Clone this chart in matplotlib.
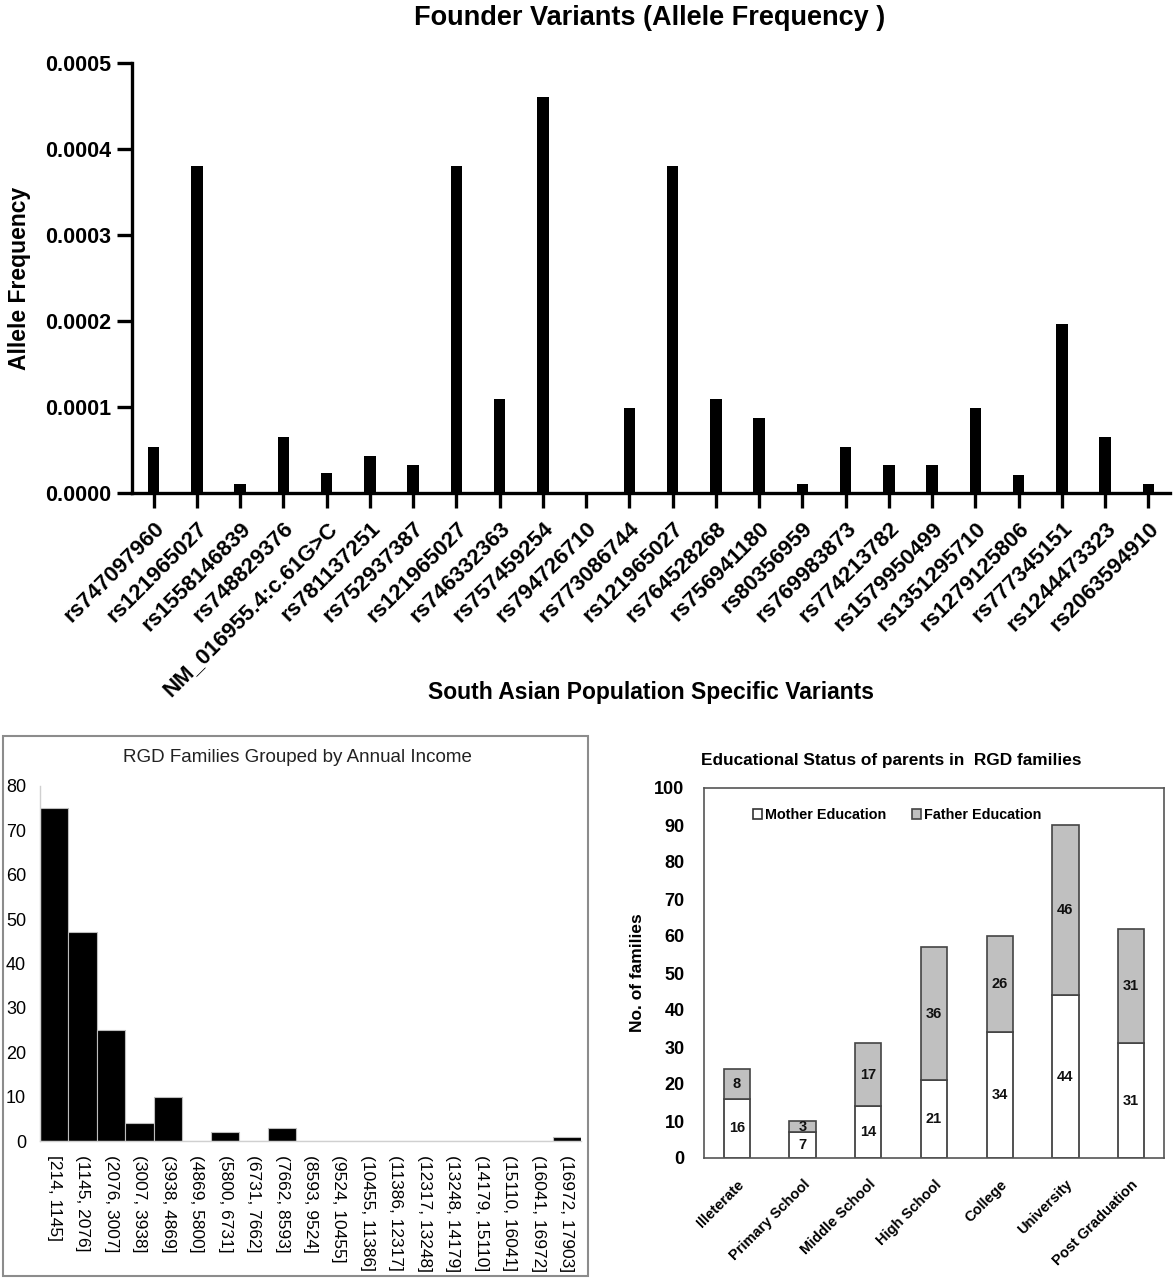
import matplotlib
matplotlib.use("Agg")
import matplotlib.pyplot as plt
from matplotlib.patches import Rectangle
import numpy as np

plt.rcParams['font.family'] = ['Liberation Sans', 'DejaVu Sans']

# ---------------- data ----------------
variants = ["rs747097960", "rs121965027", "rs1558146839", "rs748829376",
            "NM_016955.4:c.61G>C", "rs781137251", "rs752937387", "rs121965027",
            "rs746332363", "rs757459254", "rs794726710", "rs773086744",
            "rs121965027", "rs764528268", "rs756941180", "rs80356959",
            "rs769983873", "rs774213782", "rs1579950499", "rs1351295710",
            "rs1279125806", "rs777345151", "rs1244473323", "rs2063594910"]
allele_freq = [0.000054, 0.00038, 0.000010, 0.000065, 0.000023, 0.000043,
               0.000033, 0.00038, 0.000109, 0.00046, 0.000001, 0.000099,
               0.00038, 0.000109, 0.000087, 0.000010, 0.000054, 0.000033,
               0.000033, 0.000099, 0.000021, 0.000197, 0.000065, 0.000010]
freq_ticks = [0.0, 0.0001, 0.0002, 0.0003, 0.0004, 0.0005]

income_bins = ["[214, 1145]", "(1145, 2076]", "(2076, 3007]", "(3007, 3938]",
               "(3938, 4869]", "(4869, 5800]", "(5800, 6731]", "(6731, 7662]",
               "(7662, 8593]", "(8593, 9524]", "(9524, 10455]", "(10455, 11386]",
               "(11386, 12317]", "(12317, 13248]", "(13248, 14179]",
               "(14179, 15110]", "(15110, 16041]", "(16041, 16972]",
               "(16972, 17903]"]
income_counts = [75, 47, 25, 4, 10, 0, 2, 0, 3, 0, 0, 0, 0, 0, 0, 0, 0, 0, 1]
income_ticks = [0, 10, 20, 30, 40, 50, 60, 70, 80]

edu_levels = ["Illeterate", "Primary School", "Middle School", "High School",
              "College", "University", "Post Graduation"]
mother_edu = [16, 7, 14, 21, 34, 44, 31]
father_edu = [8, 3, 17, 36, 26, 46, 31]
edu_ticks = list(range(0, 101, 10))

# ---------------- figure ----------------
W, H = 1175, 1280
fig = plt.figure(figsize=(W / 100, H / 100), dpi=100)


def rect(l, t, r, b):
    return [l / W, 1 - b / H, (r - l) / W, (b - t) / H]


# ---- Top chart ----
ax1 = fig.add_axes(rect(132, 63, 1170, 493))
x = np.arange(len(variants))
ax1.bar(x, allele_freq, width=0.27, color="black")
ax1.set_xlim(-0.5, len(variants) - 0.5)
ax1.set_ylim(0, 0.0005)
ax1.set_yticks(freq_ticks)
ax1.set_yticklabels([f"{v:.4f}" for v in freq_ticks], fontsize=15.5,
                    fontweight="bold")
ax1.set_xticks(x)
ax1.set_xticklabels(variants, rotation=45, ha="right", rotation_mode="anchor",
                    fontsize=16, fontweight="bold")
for s in ["top", "right"]:
    ax1.spines[s].set_visible(False)
for s in ["left", "bottom"]:
    ax1.spines[s].set_linewidth(2.4)
ax1.tick_params(axis="both", width=2.4, length=11, pad=4)
ax1.tick_params(axis="x", pad=7)
ax1.set_ylabel("Allele Frequency", fontsize=16.5, fontweight="bold")
ax1.yaxis.set_label_coords(-0.097, 0.5)
fig.text(650 / W, 1 - 18 / H, "Founder Variants (Allele Frequency )",
         fontsize=19.5, fontweight="bold", ha="center", va="center")
fig.text(651 / W, 1 - 693 / H, "South Asian Population Specific Variants",
         fontsize=16.5, fontweight="bold", ha="center", va="center")

# ---- Bottom-left frame ----
fig.patches.append(Rectangle((3 / W, 1 - 1276 / H), (588 - 3) / W,
                             (1276 - 736) / H, transform=fig.transFigure,
                             fill=False, edgecolor="#8c8c8c", linewidth=1.5))

ax2 = fig.add_axes(rect(40, 786, 581, 1141))
xb = np.arange(len(income_bins))
ax2.bar(xb + 0.5, income_counts, width=1.0, color="black",
        edgecolor="#bdbdbd", linewidth=0.8)
ax2.set_xlim(0, len(income_bins))
ax2.set_ylim(0, 80)
ax2.set_yticks(income_ticks)
ax2.set_yticklabels([str(v) for v in income_ticks], fontsize=13)
ax2.set_xticks(xb + 0.5)
ax2.set_xticklabels(income_bins, rotation=-90, ha="center", va="top",
                    fontsize=12.5)
for s in ["top", "right"]:
    ax2.spines[s].set_visible(False)
for s in ["left", "bottom"]:
    ax2.spines[s].set_color("#d0d0d0")
    ax2.spines[s].set_linewidth(1.0)
ax2.tick_params(axis="both", length=0)
ax2.tick_params(axis="y", pad=10)
ax2.tick_params(axis="x", pad=10)
fig.text(297 / W, 1 - 758 / H, "RGD Families Grouped by Annual Income",
         fontsize=13.5, ha="center", va="center", color="#222222")

# ---- Bottom-right chart ----
ax3 = fig.add_axes(rect(704, 788, 1164, 1158))
xe = np.arange(len(edu_levels))
bw = 0.4
ax3.bar(xe, mother_edu, width=bw, color="white", edgecolor="#333333",
        linewidth=1.2, label="Mother Education")
ax3.bar(xe, father_edu, width=bw, bottom=mother_edu, color="#c0c0c0",
        edgecolor="#444444", linewidth=1.2, label="Father Education")
for i in range(len(edu_levels)):
    ax3.text(xe[i], mother_edu[i] / 2, str(mother_edu[i]), ha="center",
             va="center", fontsize=10.5, fontweight="bold", color="#111111")
    ax3.text(xe[i], mother_edu[i] + father_edu[i] / 2, str(father_edu[i]),
             ha="center", va="center", fontsize=10.5, fontweight="bold",
             color="#111111")
ax3.set_xlim(-0.5, len(edu_levels) - 0.5)
ax3.set_ylim(0, 100)
ax3.set_yticks(edu_ticks)
ax3.set_yticklabels([str(v) for v in edu_ticks], fontsize=13, fontweight="bold")
ax3.set_xticks(xe)
ax3.set_xticklabels(edu_levels, rotation=45, ha="right", rotation_mode="anchor",
                    fontsize=10.5, fontweight="bold")
ax3.tick_params(axis="both", length=0)
ax3.tick_params(axis="y", pad=14)
ax3.tick_params(axis="x", pad=14)
for s in ax3.spines.values():
    s.set_color("#555555")
    s.set_linewidth(1.2)
ax3.set_ylabel("No. of families", fontsize=12.5, fontweight="bold")
ax3.yaxis.set_label_coords(-0.128, 0.5)
ax3.legend(loc="upper center", bbox_to_anchor=(0.42, 0.981), ncol=2,
           frameon=False, prop={"weight": "bold", "size": 10.4},
           handlelength=0.6, handleheight=0.6, handletextpad=0.2,
           columnspacing=1.8)
fig.text(891 / W, 1 - 760 / H, "Educational Status of parents in  RGD families",
         fontsize=12.4, fontweight="bold", ha="center", va="center")

fig.savefig("out.png", dpi=100)
